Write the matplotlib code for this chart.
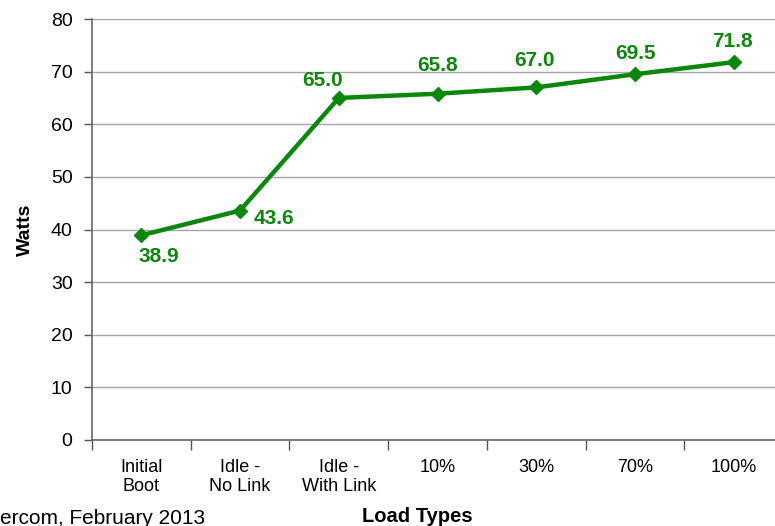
import matplotlib
matplotlib.use("Agg")
import matplotlib.pyplot as plt
from matplotlib import font_manager as fm
import numpy as np

categories = ["Initial\nBoot", "Idle -\nNo Link", "Idle -\nWith Link", "10%", "30%", "70%", "100%"]
watts = [38.9, 43.6, 65.0, 65.8, 67.0, 69.5, 71.8]
yticks = [0, 10, 20, 30, 40, 50, 60, 70, 80]

names = {f.name for f in fm.fontManager.ttflist}
narrow = "Liberation Sans Narrow" if "Liberation Sans Narrow" in names else "Liberation Sans"
plt.rcParams["font.family"] = ["Liberation Sans", "DejaVu Sans"]

green = "#0c870c"
fig = plt.figure(figsize=(7.75, 5.26), dpi=100)
ax = fig.add_axes([92/775, 86/526, (783-92)/775, (440-19)/526])

x = np.arange(len(categories))
ax.plot(x, watts, color=green, lw=3.2, marker="D", ms=7.5, mec=green, mfc=green, zorder=3, clip_on=False)

ax.set_xlim(-0.5, len(categories) - 0.5)
ax.set_ylim(0, 80)
ax.set_yticks(yticks)
ax.set_yticklabels([str(v) for v in yticks], fontsize=14)
ax.yaxis.grid(True, color="#a6a6a6", lw=1.0)
ax.set_axisbelow(True)

ax.set_xticks(np.arange(-0.5, len(categories) + 0.5, 1.0))
ax.set_xticklabels([])
ax.set_xticks(x, minor=True)
ax.set_xticklabels(categories, minor=True, fontsize=13, family=narrow, linespacing=1.1)
ax.tick_params(axis="x", which="minor", length=0, pad=14)
ax.tick_params(axis="x", which="major", length=7, color="#555555", width=1)
ax.tick_params(axis="y", length=6, color="#555555", width=1, pad=8)

for s in ["top", "right"]:
    ax.spines[s].set_visible(False)
for s in ["left", "bottom"]:
    ax.spines[s].set_color("#666666")
    ax.spines[s].set_linewidth(1.2)

offsets = [(17, -21), (34, -8), (-16, 17), (0, 28), (-2, 27), (1, 21), (-1, 21)]
for xi, v, (dx, dy) in zip(x, watts, offsets):
    ax.annotate(f"{v:.1f}", (xi, v), xytext=(dx, dy), textcoords="offset pixels",
                ha="center", va="center", color=green, fontsize=15, fontweight="bold")

ax.set_ylabel("Watts", fontsize=14, fontweight="bold", labelpad=12)
fig.text(417/775, 1 - 516/526, "Load Types", ha="center", va="center",
         fontsize=14.5, fontweight="bold", family=narrow)
fig.text(0/775, 1 - 518/526, "ercom, February 2013", ha="left", va="center",
         fontsize=15)

fig.savefig("out.png", dpi=100)
